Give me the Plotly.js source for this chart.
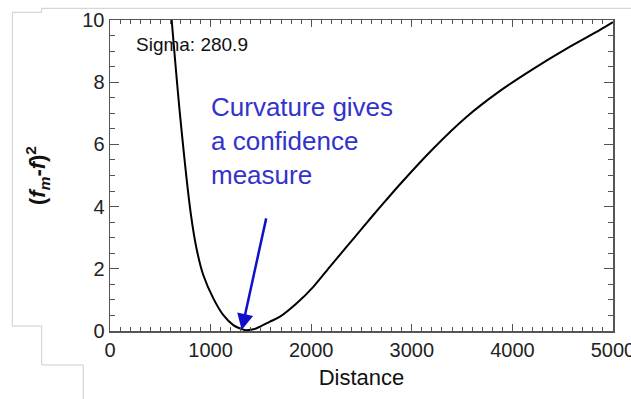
<!DOCTYPE html>
<html>
<head>
<meta charset="utf-8">
<script src="https://cdn.plot.ly/plotly-3.0.1.min.js"></script>
<style>html,body{margin:0;padding:0;background:#fff;}#chart{width:631px;height:399px;}</style>
</head>
<body>
<div id="chart"></div>
<script>
// Distance values (x)
const distance = [613, 696, 802, 862, 927, 1027, 1127, 1226, 1309, 1340, 1400, 1458, 1590, 1690, 1856, 2021, 2187, 2353, 2518, 2684, 2883, 3214, 3546, 3877, 4208, 4539, 4871, 5000];
// Squared difference (f_m - f)^2
const sqDiff  = [10.0, 6.95, 3.80, 2.62, 1.80, 1.05, 0.51, 0.19, 0.06, 0.03, 0.04, 0.09, 0.30, 0.46, 0.89, 1.42, 2.07, 2.71, 3.35, 3.98, 4.72, 5.87, 6.89, 7.72, 8.43, 9.08, 9.68, 9.93];

// Tick settings (first tick, spacing)
const xTickStart = 0, xTickStep = 1000, xMinorStep = 100;
const yTickStart = 0, yTickStep = 2, yMinorStep = 0.5;

const sigmaLabel = "Sigma: 280.9";
const noteLabel = "Curvature gives<br>a confidence<br>measure";
// arrow: tip and tail in data units
const arrowTip = [1309, 0.03];
const arrowTail = [1556, 3.67];

const font = "Liberation Sans, Arial, Helvetica, sans-serif";

const trace = {
  x: distance, y: sqDiff, type: 'scatter', mode: 'lines',
  line: {color: '#000000', width: 2, shape: 'spline', smoothing: 0.8},
  hoverinfo: 'skip', showlegend: false
};

const axisCommon = {
  showgrid: false, zeroline: false, showline: true,
  linecolor: '#555555', linewidth: 1.5, mirror: 'allticks',
  ticks: 'inside', tickcolor: '#555555', tickwidth: 1.2,
  ticklabeloverflow: 'allow',
  tickfont: {family: font, size: 20, color: '#222222'}
};

const layout = {
  width: 631, height: 399,
  margin: {l: 110, r: 18, t: 20, b: 68},
  paper_bgcolor: '#ffffff', plot_bgcolor: '#ffffff',
  showlegend: false,
  xaxis: Object.assign({}, axisCommon, {
    range: [0, 5000], tickmode: 'linear', tick0: xTickStart, dtick: xTickStep,
    ticklen: 7,
    minor: {dtick: xMinorStep, ticklen: 4, tickcolor: '#555555', tickwidth: 1, ticks: 'inside', showgrid: false},
    title: {text: 'Distance', font: {family: font, size: 22, color: '#111111'}, standoff: 10}
  }),
  yaxis: Object.assign({}, axisCommon, {
    range: [0, 10], tickmode: 'linear', tick0: yTickStart, dtick: yTickStep,
    ticklen: 9,
    minor: {dtick: yMinorStep, ticklen: 5, tickcolor: '#555555', tickwidth: 1, ticks: 'inside', showgrid: false},
    title: {text: '<b>(<i>f</i><sub><i>m</i></sub>-<i>f</i>)<sup>2</sup></b>', font: {family: font, size: 22, color: '#111111'}, standoff: 30}
  }),
  annotations: [
    {xref: 'paper', yref: 'paper', x: 0.048, y: 0.92, xanchor: 'left', yanchor: 'middle',
     text: sigmaLabel, showarrow: false, font: {family: font, size: 19, color: '#111111'}},
    {xref: 'paper', yref: 'paper', x: 0.197, y: 0.611, xanchor: 'left', yanchor: 'middle', align: 'left',
     text: noteLabel, showarrow: false, font: {family: font, size: 26, color: '#3333cc'}},
    {xref: 'x', yref: 'y', axref: 'x', ayref: 'y',
     x: arrowTip[0], y: arrowTip[1], ax: arrowTail[0], ay: arrowTail[1],
     text: '', showarrow: true, arrowhead: 2, arrowsize: 1.3, arrowwidth: 2.5,
     arrowcolor: '#1010cc', standoff: 0, startstandoff: 0}
  ],
  shapes: [
    {type: 'path', xref: 'paper', yref: 'paper',
     path: 'M1.04,1.0376 L-0.1358,1.0376 L-0.1358,1.0248 L-0.1942,1.0248 L-0.1942,0.0161 L-0.1358,0.0161 L-0.1358,-0.1093 L-0.0531,-0.1093 L-0.0531,-0.23',
     line: {color: '#cccccc', width: 1}}
  ]
};

Plotly.newPlot('chart', [trace], layout, {staticPlot: true, displayModeBar: false});
</script>
</body>
</html>
